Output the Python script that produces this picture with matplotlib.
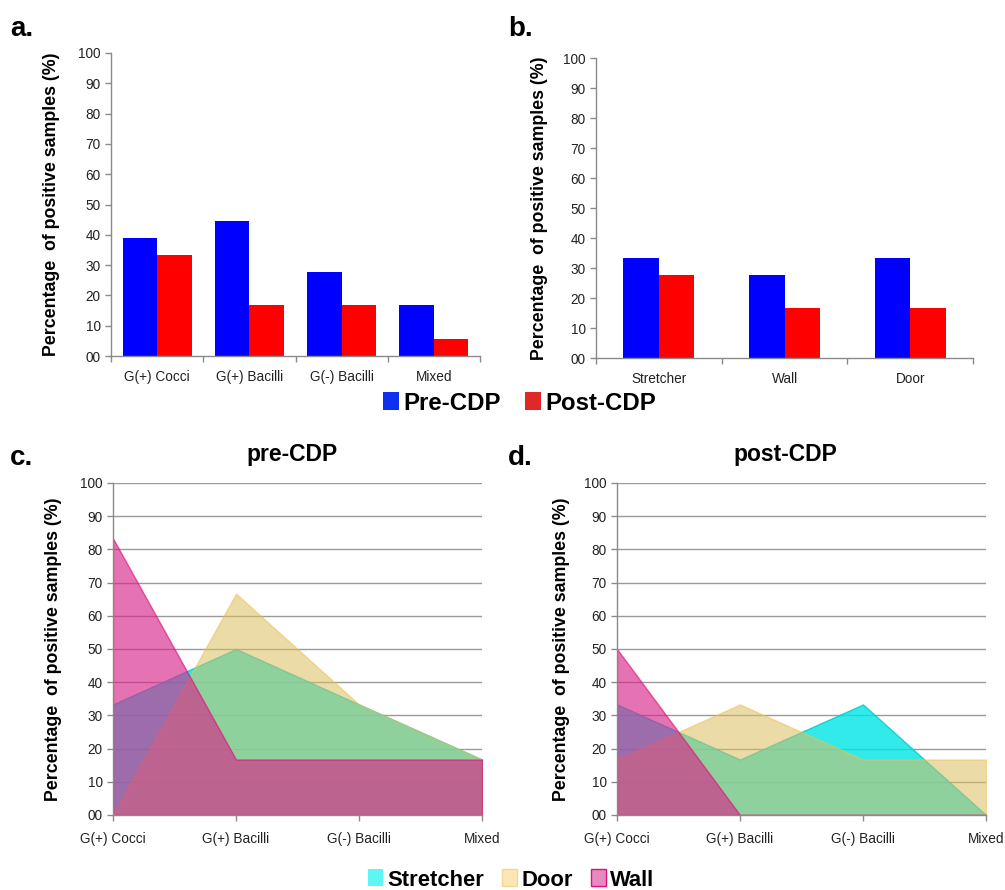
import numpy as np
import matplotlib.pyplot as plt
from matplotlib.patches import Patch

plt.rcParams['font.family'] = ['Liberation Sans', 'DejaVu Sans']

# ---- data ----
bacteria = ['G(+) Cocci', 'G(+) Bacilli', 'G(-) Bacilli', 'Mixed']
pre_bact = [38.9, 44.4, 27.8, 16.7]
post_bact = [33.3, 16.7, 16.7, 5.6]

surfaces = ['Stretcher', 'Wall', 'Door']
pre_surf = [33.3, 27.8, 33.3]
post_surf = [27.8, 16.7, 16.7]

# area charts: % positive samples per surface, by bacteria type
pre_stretcher = [33.3, 50.0, 33.3, 16.7]
pre_door = [0.0, 66.7, 33.3, 16.7]
pre_wall = [83.3, 16.7, 16.7, 16.7]

post_stretcher = [33.3, 16.7, 33.3, 0.0]
post_door = [16.7, 33.3, 16.7, 16.7]
post_wall = [50.0, 0.0, 0.0, 0.0]

yticks = np.arange(0, 101, 10)
ytick_labels = ['00'] + [str(v) for v in yticks[1:]]
ylab = 'Percentage  of positive samples (%)'

W, H = 1005, 890
fig = plt.figure(figsize=(W / 100, H / 100), dpi=100)


def px_axes(left, top, right, bottom):
    return fig.add_axes([left / W, 1 - bottom / H, (right - left) / W, (bottom - top) / H])


def style(ax, grid=False):
    for s in ['top', 'right']:
        ax.spines[s].set_visible(False)
    for s in ['left', 'bottom']:
        ax.spines[s].set_color('#8a8a8a')
        ax.spines[s].set_linewidth(1.0)
    ax.set_ylim(0, 100)
    ax.set_yticks(yticks)
    ax.set_yticklabels(ytick_labels)
    ax.tick_params(axis='both', which='both', direction='out', length=4, width=1,
                   color='#8a8a8a', labelsize=9.8, labelcolor='#222222')
    if grid:
        ax.grid(axis='y', color='#9a9a9a', linewidth=1.0)
        ax.set_axisbelow(True)


def bar_panel(ax, cats, pre, post, width):
    x = np.arange(len(cats))
    ax.bar(x - width / 2, pre, width, color='#0000ff')
    ax.bar(x + width / 2, post, width, color='#ff0000')
    ax.set_xlim(-0.5, len(cats) - 0.5)
    style(ax)
    ax.set_xticks(np.arange(len(cats) + 1) - 0.5)
    ax.set_xticklabels([])
    ax.set_xticks(x, minor=True)
    ax.set_xticklabels(cats, minor=True)
    ax.tick_params(axis='x', which='minor', length=0, pad=10)


def area_panel(ax, stretcher, door, wall):
    x = np.arange(len(bacteria))
    ax.fill_between(x, 0, stretcher, color='#00e5e5', alpha=0.8, linewidth=1,
                    edgecolor='#00c8c8')
    ax.fill_between(x, 0, door, color='#dcbe5f', alpha=0.55, linewidth=1,
                    edgecolor='#f0c050')
    ax.fill_between(x, 0, wall, color='#d7288a', alpha=0.65, linewidth=1,
                    edgecolor='#e0107a')
    ax.set_xlim(0, len(bacteria) - 1)
    style(ax, grid=True)
    ax.set_xticks(x)
    ax.set_xticklabels(bacteria)
    ax.tick_params(axis='x', pad=8)


ax_a = px_axes(111, 53, 480, 356)
bar_panel(ax_a, bacteria, pre_bact, post_bact, 0.375)
ax_b = px_axes(596, 58, 973, 358)
bar_panel(ax_b, surfaces, pre_surf, post_surf, 0.283)
ax_c = px_axes(113, 483, 482, 815)
area_panel(ax_c, pre_stretcher, pre_door, pre_wall)
ax_d = px_axes(617, 483, 986, 815)
area_panel(ax_d, post_stretcher, post_door, post_wall)

for ax, xl in [(ax_a, 60), (ax_b, 548), (ax_c, 62), (ax_d, 570)]:
    ax.set_ylabel(ylab, fontsize=12.8, fontweight='bold')
    pos = ax.get_position()
    ax.yaxis.set_label_coords((xl / W - pos.x0) / pos.width, 0.5)

for lab, x, y in [('a.', 10, 36), ('b.', 508, 36), ('c.', 10, 465), ('d.', 508, 465)]:
    fig.text(x / W, 1 - y / H, lab, fontsize=20, fontweight='bold')

fig.text(292 / W, 1 - 455 / H, 'pre-CDP', fontsize=16.5, fontweight='bold', ha='center', va='center')
fig.text(785 / W, 1 - 455 / H, 'post-CDP', fontsize=16.5, fontweight='bold', ha='center', va='center')

top_handles = [Patch(facecolor='#1030f0', edgecolor='none'),
               Patch(facecolor='#e02828', edgecolor='none')]
fig.legend(top_handles, ['Pre-CDP', 'Post-CDP'], loc='center',
           bbox_to_anchor=(520 / W, 1 - 403 / H), ncol=2, frameon=False,
           prop={'weight': 'bold', 'size': 17.3}, handlelength=0.65, handleheight=0.75,
           handletextpad=0.2, columnspacing=1.0)

bot_handles = [Patch(facecolor='#5ef5f5', edgecolor='none'),
               Patch(facecolor='#fde6b3', edgecolor='#f2d79a'),
               Patch(facecolor='#e88ac0', edgecolor='#e0107a')]
fig.legend(bot_handles, ['Stretcher', 'Door', 'Wall'], loc='center',
           bbox_to_anchor=(511 / W, 1 - 880 / H), ncol=3, frameon=False,
           prop={'weight': 'bold', 'size': 15.8}, handlelength=0.7, handleheight=0.8,
           handletextpad=0.2, columnspacing=0.8)

fig.savefig('out.png', dpi=100)
